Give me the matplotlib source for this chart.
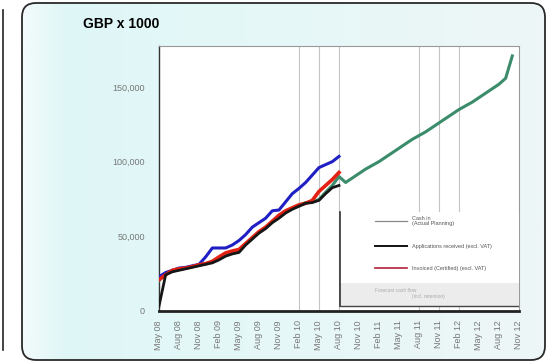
import numpy as np
import matplotlib.pyplot as plt
from matplotlib.patches import FancyBboxPatch, Rectangle
from matplotlib.lines import Line2D
from matplotlib.colors import LinearSegmentedColormap

plt.rcParams['font.family'] = ['Liberation Sans', 'DejaVu Sans']

# quarterly tick labels, May 08 .. Nov 12 (month index 0 .. 54)
tick_labels = ['May 08', 'Aug 08', 'Nov 08', 'Feb 09', 'May 09', 'Aug 09', 'Nov 09',
               'Feb 10', 'May 10', 'Aug 10', 'Nov 10', 'Feb 11', 'May 11', 'Aug 11',
               'Nov 11', 'Feb 12', 'May 12', 'Aug 12', 'Nov 12']

# values in thousands of GBP x 1000, monthly from May 08
applications = [22.7, 25.5, 27, 28.5, 29, 30, 31, 36, 42, 42, 42, 44, 47, 51, 56,
                59, 62, 67, 67.5, 73, 78.5, 82, 86, 91, 96, 98, 100, 103.5]
invoiced = [20.7, 24, 27, 28, 28.5, 29.5, 30.7, 31.5, 33, 36, 38.7, 40, 41, 45, 49,
            53, 56, 60, 64, 67, 69, 71, 72, 74, 80, 84, 88, 92.7]
received = [3, 24, 26, 27, 28, 29, 30, 31, 32, 34, 36.5, 38, 39, 44, 48,
            52, 55, 59, 62, 65.5, 68, 70, 72, 72.5, 74, 78.5, 82.5, 84]
cash_in = [20, 24.5, 26.5, 27.5, 28.5, 29.5, 30.5, 31.5, 33, 35, 37.5, 39, 40, 44.5,
           48.5, 52.5, 55.5, 59.5, 62.5, 66, 68.5, 70.5, 72.5, 73, 74.5, 79.5, 84, 90,
           86, 89, 92, 95, 97.5, 100, 103, 106, 109, 112, 115, 117.5, 120, 123, 126,
           129, 132, 135, 137.5, 140, 143, 146, 149, 152, 156, 171]

grid_months = [21, 24, 27, 39, 42, 45]

fig = plt.figure(figsize=(5.49, 3.63), dpi=100)
fig.patch.set_facecolor('white')

# background panel with rounded frame (pixel coordinates)
bg = fig.add_axes([0, 0, 1, 1])
bg.set_xlim(0, 549)
bg.set_ylim(363, 0)
bg.axis('off')
cmap = LinearSegmentedColormap.from_list('bg', [(0, '#f3fbfb'), (0.08, '#dff6f6'),
                                                (0.3, '#e3f8f8'), (1, '#eef6f6')])
grad = np.linspace(0, 1, 300).reshape(1, -1)
frame = FancyBboxPatch((22, 3), 523, 357, boxstyle='round,pad=0,rounding_size=14',
                       facecolor='none', edgecolor='#2a2a2a', lw=1.3, zorder=3)
im = bg.imshow(grad, cmap=cmap, extent=(22, 545, 360, 3), aspect='auto', zorder=1)
bg.add_patch(frame)
im.set_clip_path(frame)
bg.plot([3, 3], [10, 350], color='#222222', lw=1.2)

fig.text(83 / 549, 1 - 24 / 363, 'GBP x 1000', fontsize=10, fontweight='bold',
         ha='left', va='center')

ax = fig.add_axes([0.2896, 0.1446, 0.6557, 0.730])
ax.set_facecolor('white')
m = np.arange(len(cash_in))
k = 1000

for g in grid_months:
    ax.axvline(g, color='#c4c4c4', lw=0.8, zorder=1)

ax.plot(m, np.array(cash_in) * k, color='#3b8c6b', lw=2.2, zorder=3)
ax.plot(m[:len(applications)], np.array(applications) * k, color='#1f1fc4', lw=2.2, zorder=3)
ax.plot(m[:len(invoiced)], np.array(invoiced) * k, color='#e42012', lw=2.6, zorder=4)
ax.plot(m[:len(received)], np.array(received) * k, color='#161616', lw=2.0, zorder=5)

ax.set_xlim(0, 54)
ax.set_ylim(0, 178000)
ax.set_xticks(np.arange(0, 55, 3))
ax.set_xticklabels(tick_labels, rotation=90, fontsize=6.5, color='#777777')
ax.set_yticks([0, 50000, 100000, 150000])
ax.set_yticklabels(['0', '50,000', '100,000', '150,000'], fontsize=6.5, color='#777777')
ax.tick_params(axis='x', length=0, pad=7)
ax.tick_params(axis='y', length=0, pad=10)
for s in ['top', 'right']:
    ax.spines[s].set_color('#999999')
    ax.spines[s].set_linewidth(0.8)
ax.spines['left'].set_color('#333333')
ax.spines['left'].set_linewidth(1.0)
ax.spines['bottom'].set_color('#222222')
ax.spines['bottom'].set_linewidth(2.0)

# legend box in the lower right
tr = ax.transAxes
ax.add_patch(Rectangle((0.503, 0.017), 0.497, 0.355, transform=tr, facecolor='white',
                       edgecolor='none', zorder=6))
ax.add_patch(Rectangle((0.503, 0.017), 0.497, 0.087, transform=tr, facecolor='#ececec',
                       edgecolor='none', zorder=6))
ax.add_line(Line2D([0.503, 0.503], [0.017, 0.372], transform=tr, color='#333333', lw=1.2, zorder=7))
ax.add_line(Line2D([0.503, 1.0], [0.017, 0.017], transform=tr, color='#444444', lw=1.0, zorder=7))

entries = [('Cash in\n(Actual Planning)', '#888888', 0.9, 0.338),
           ('Applications received (excl. VAT)', '#111111', 1.4, 0.243),
           ('Invoiced (Certified) (excl. VAT)', '#b0203a', 1.2, 0.160)]
for label, col, lw, y in entries:
    ax.add_line(Line2D([0.60, 0.689], [y, y], transform=tr, color=col, lw=lw, zorder=7))
    ax.text(0.703, y, label, transform=tr, fontsize=4, color='#555555', va='center',
            ha='left', zorder=7, linespacing=1.0)
ax.text(0.60, 0.077, 'Forecast cash flow', transform=tr, fontsize=3.5, color='#aaaaaa',
        va='center', ha='left', zorder=7)
ax.text(0.703, 0.052, '(incl. retention)', transform=tr, fontsize=3.5, color='#aaaaaa',
        va='center', ha='left', zorder=7)

fig.savefig('out.png', dpi=100)
